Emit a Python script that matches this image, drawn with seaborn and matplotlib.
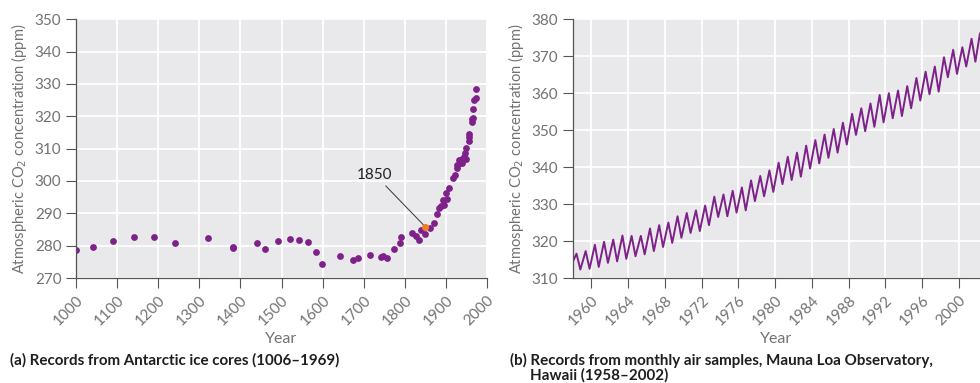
import numpy as np
import pandas as pd
import matplotlib.pyplot as plt
import seaborn as sns

### ice core records (panel a)
ice_year = [1001, 1041, 1091, 1141, 1190, 1240, 1322, 1382, 1382, 1440, 1460, 1492, 1521,
            1542, 1565, 1583, 1598, 1642, 1673, 1686, 1715, 1741, 1747, 1757, 1773, 1788,
            1791, 1818, 1827, 1835, 1840, 1850, 1861, 1870, 1877, 1882, 1888, 1893, 1895,
            1899, 1903, 1907, 1917, 1921, 1927, 1928, 1932, 1934, 1938, 1940, 1944, 1947,
            1949, 1948, 1955, 1957, 1957, 1963, 1964, 1965, 1967, 1968, 1972, 1972]
ice_co2 = [278.8, 279.6, 281.4, 282.6, 282.7, 280.8, 282.4, 279.6, 279.3, 280.8, 279.0, 281.4,
           282.1, 281.8, 281.0, 278.1, 274.2, 276.8, 275.6, 276.2, 277.0, 276.6, 276.8, 276.3,
           278.9, 280.7, 282.6, 284.0, 283.1, 281.8, 284.7, 283.7, 285.5, 287.1, 289.9, 291.8,
           292.4, 294.0, 292.6, 296.3, 294.4, 297.8, 301.0, 301.8, 304.9, 304.1, 306.6, 305.4,
           306.9, 305.6, 307.4, 308.7, 306.9, 310.3, 314.6, 313.6, 312.4, 319.3, 318.2, 319.6,
           322.2, 325.0, 325.7, 328.5]
mark_year = 1850
mark_co2 = 285.8

### Mauna Loa (panel b): yearly seasonal peaks (May) and troughs (Oct)
ml_years = list(range(1958, 2002))
ml_peak = [316.6, 317.3, 319.0, 319.8, 320.4, 321.5, 321.4, 321.4, 323.4, 324.3, 325.0,
           326.7, 327.6, 328.3, 329.6, 332.0, 332.6, 333.6, 334.5, 336.4, 337.6, 339.1,
           341.2, 342.8, 343.9, 345.8, 347.3, 348.8, 350.3, 352.0, 354.4, 355.9, 357.2,
           359.5, 360.0, 360.7, 361.9, 364.1, 365.8, 367.2, 369.7, 371.7, 372.4, 374.7]
ml_trough = [312.3, 312.5, 313.0, 314.1, 314.5, 315.2, 315.9, 316.4, 317.3, 318.4, 319.5,
             320.9, 322.2, 322.7, 324.3, 326.5, 326.7, 327.7, 328.3, 330.8, 332.1, 333.3,
             335.4, 336.5, 337.4, 339.6, 341.0, 342.5, 343.9, 346.1, 348.7, 349.7, 350.9,
             352.1, 353.2, 353.8, 355.9, 358.0, 359.7, 360.4, 364.3, 365.2, 367.2, 368.5]
ml_start = (1958.0, 314.5)
ml_end = (2002.3, 376.2)

t, v = [ml_start[0]], [ml_start[1]]
for y, p, tr in zip(ml_years, ml_peak, ml_trough):
    t += [y + 0.38, y + 0.80]
    v += [p, tr]
t.append(ml_end[0])
v.append(ml_end[1])
ml = pd.DataFrame({'t': t, 'co2': v})
ice = pd.DataFrame({'year': ice_year, 'co2': ice_co2})

sns.set_theme(style="darkgrid")
plt.rcParams['font.family'] = ['Lato', 'DejaVu Sans']
plt.rcParams['axes.facecolor'] = '#e9e9ec'
plt.rcParams['grid.color'] = 'white'
plt.rcParams['grid.linewidth'] = 1.3

purple = '#7e2189'
gray = '#727272'

fig = plt.figure(figsize=(9.8, 3.83), dpi=100)
ax1 = fig.add_axes([0.0776, 0.274, 0.4194, 0.676])
ax2 = fig.add_axes([0.5847, 0.274, 0.4153, 0.676])

sns.scatterplot(data=ice, x='year', y='co2', ax=ax1, color=purple, s=24, linewidth=0)
ax1.scatter([mark_year], [mark_co2], color='#f07d25', s=26, zorder=5, linewidth=0)
ax1.annotate('1850', xy=(mark_year, mark_co2), xytext=(1727, 299.8),
             fontsize=11, color='#222222', ha='center', va='bottom',
             arrowprops=dict(arrowstyle='-', color='#333333', lw=0.7, shrinkA=1, shrinkB=2))
ax1.set_xlim(1000, 2000)
ax1.set_ylim(270, 350)
ax1.set_xticks(range(1000, 2001, 100))
ax1.set_yticks(range(270, 351, 10))

sns.lineplot(data=ml, x='t', y='co2', ax=ax2, color=purple, lw=1.4)
ax2.set_xlim(1958.0, 2002.3)
ax2.set_ylim(310, 380)
ax2.set_xticks(range(1960, 2001, 4))
ax2.set_yticks(range(310, 381, 10))

for ax in (ax1, ax2):
    ax.set_xlabel('Year', color=gray, fontsize=11.5, labelpad=3)
    ax.set_ylabel('Atmospheric CO$_2$ concentration (ppm)', color=gray, fontsize=10.6, labelpad=4)
    ax.tick_params(axis='both', colors=gray, labelsize=11, length=7, width=0.8, direction='out',
                   left=True, bottom=True, color='#555555')
    plt.setp(ax.get_xticklabels(), rotation=45, ha='right', rotation_mode='anchor')
    for side in ('top', 'right'):
        ax.spines[side].set_visible(False)
    for side in ('left', 'bottom'):
        ax.spines[side].set_visible(True)
        ax.spines[side].set_color('#555555')
        ax.spines[side].set_linewidth(0.9)

cap = dict(fontsize=10.9, fontweight='bold', color='#1e1e1e', va='center')
fig.text(0.010, 0.060, '(a) Records from Antarctic ice cores (1006\u20131969)', **cap)
fig.text(0.520, 0.060, '(b) Records from monthly air samples, Mauna Loa Observatory,', **cap)
fig.text(0.541, 0.021, 'Hawaii (1958\u20132002)', **cap)

fig.savefig('out.png', dpi=100)
